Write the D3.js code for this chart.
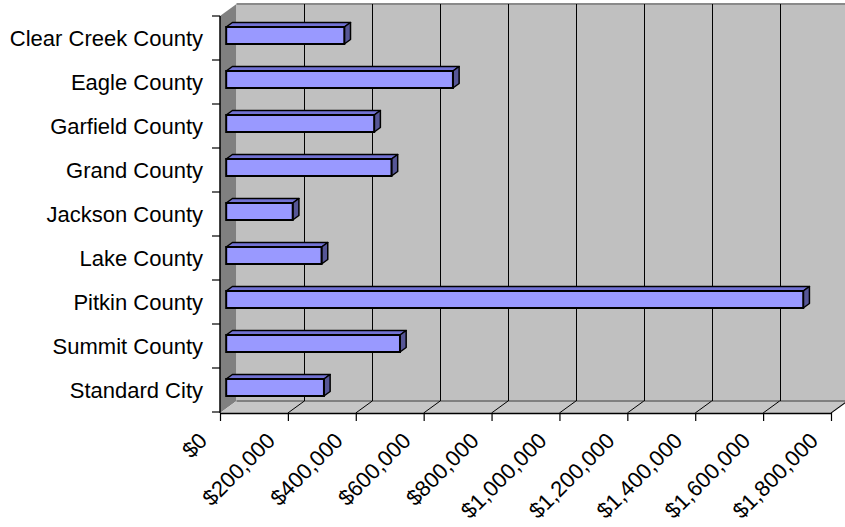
<!DOCTYPE html>
<html>
<head>
<meta charset="utf-8">
<script src="https://cdn.jsdelivr.net/npm/d3@7"></script>
<style>
  html, body { margin: 0; padding: 0; background: #ffffff; }
  svg { display: block; }
  text { font-family: "Liberation Sans", Arial, sans-serif; fill: #000; }
</style>
</head>
<body>
<svg id="chart" width="845" height="527"></svg>
<script>
// ---- data ----
const categories = ["Clear Creek County", "Eagle County", "Garfield County", "Grand County",
  "Jackson County", "Lake County", "Pitkin County", "Summit County", "Standard City"];
const values = [348000, 668000, 436000, 487000, 196000, 281000, 1700000, 512000, 288000];
const tickValues = [0, 200000, 400000, 600000, 800000, 1000000, 1200000, 1400000, 1600000, 1800000];

// ---- layout ----
const svg = d3.select("#chart");
const DX = 16.5, DY = -12;        // depth of the 3-D box
const F1 = 0.375, F2 = 0.75;      // bar front / back depth fraction
const x = d3.scaleLinear().domain([0, 1800000]).range([220, 831]);
const y = d3.scaleBand().domain(categories).range([16, 412]);
const x0 = x.range()[0], x1 = x.range()[1];
const yTop = y.range()[0], yBot = y.range()[1] + 1;
const FONT = "22px";

// left wall
svg.append("polygon")
  .attr("points", [[x0, yTop], [x0 + DX, yTop + DY], [x0 + DX, yBot + DY], [x0, yBot]].join(" "))
  .attr("fill", "#808080");

// back wall
svg.append("rect")
  .attr("x", x0 + DX).attr("y", yTop + DY)
  .attr("width", x1 + DX - (x0 + DX) + 2).attr("height", yBot - yTop)
  .attr("fill", "#c0c0c0");
svg.append("line")
  .attr("x1", x0 + DX).attr("x2", 845).attr("y1", yTop + DY).attr("y2", yTop + DY)
  .attr("stroke", "#8a8a8a").attr("stroke-width", 2);

// floor
svg.append("polygon")
  .attr("points", [[x0, yBot], [x0 + DX, yBot + DY], [x1 + DX, yBot + DY], [x1, yBot]].join(" "))
  .attr("fill", "#c6c6c6");
svg.append("line")
  .attr("x1", x0 + DX).attr("x2", x1 + DX).attr("y1", yBot + DY).attr("y2", yBot + DY)
  .attr("stroke", "#808080").attr("stroke-width", 2);
svg.append("line")
  .attr("x1", x1).attr("x2", x1 + DX).attr("y1", yBot).attr("y2", yBot + DY)
  .attr("stroke", "#909090").attr("stroke-width", 1.5);

// gridlines on back wall + floor
const grid = svg.append("g");
tickValues.slice(1).forEach(t => {
  grid.append("line")
    .attr("x1", Math.round(x(t) + DX) + 0.5).attr("x2", Math.round(x(t) + DX) + 0.5)
    .attr("y1", yTop + DY).attr("y2", yBot + DY)
    .attr("stroke", "#000").attr("stroke-width", 1);
  grid.append("line")
    .attr("x1", x(t) + DX).attr("x2", x(t))
    .attr("y1", yBot + DY).attr("y2", yBot)
    .attr("stroke", "#000").attr("stroke-width", 1);
});

// bottom axis
const fmt = v => "$" + d3.format(",")(v);
const xAxis = svg.append("g")
  .attr("transform", `translate(0,${yBot})`)
  .call(d3.axisBottom(x).tickValues(tickValues).tickSize(8).tickSizeOuter(0).tickFormat(fmt));
xAxis.select(".domain").attr("stroke", "#000").attr("stroke-width", 1.5);
xAxis.selectAll(".tick line").attr("stroke", "#000").attr("stroke-width", 1.2);
xAxis.selectAll(".tick text")
  .attr("font-size", FONT)
  .attr("font-family", "'Liberation Sans', Arial, sans-serif")
  .attr("text-anchor", "end")
  .attr("y", 0).attr("dy", 0)
  .attr("transform", "translate(-12,29) rotate(-45)");

// left axis
svg.append("line")
  .attr("x1", x0).attr("x2", x0).attr("y1", yTop).attr("y2", yBot)
  .attr("stroke", "#000").attr("stroke-width", 1.5);
const bounds = categories.map(c => y(c)).concat([y.range()[1]]);
svg.append("g").selectAll("line").data(bounds).join("line")
  .attr("x1", x0 - 8).attr("x2", x0).attr("y1", d => d).attr("y2", d => d)
  .attr("stroke", "#000").attr("stroke-width", 1.2);
const yAxis = svg.append("g")
  .attr("transform", `translate(${x0},0)`)
  .call(d3.axisLeft(y).tickSize(0).tickPadding(17));
yAxis.select(".domain").remove();
yAxis.selectAll(".tick text")
  .attr("font-size", FONT)
  .attr("font-family", "'Liberation Sans', Arial, sans-serif")
  .attr("dy", "0.36em");

// bars
const bh = 17, bOff = 15.5;
const bdx = (F2 - F1) * DX, bdy = (F2 - F1) * DY;
const bars = svg.append("g").selectAll("g").data(categories.map((c, i) => ({c, v: values[i]}))).join("g");
bars.each(function(d) {
  const g = d3.select(this);
  const xl = x(0) + F1 * DX, xr = x(d.v) + F1 * DX;
  const yt = y(d.c) + bOff + F1 * DY, yb = yt + bh;
  g.append("polygon")
    .attr("points", [[xl, yt], [xr, yt], [xr + bdx, yt + bdy], [xl + bdx, yt + bdy]].join(" "))
    .attr("fill", "#7272d4").attr("stroke", "#000").attr("stroke-width", 1.5).attr("stroke-linejoin", "round");
  g.append("polygon")
    .attr("points", [[xr, yt], [xr + bdx, yt + bdy], [xr + bdx, yb + bdy], [xr, yb]].join(" "))
    .attr("fill", "#565696").attr("stroke", "#000").attr("stroke-width", 1.5).attr("stroke-linejoin", "round");
  g.append("rect")
    .attr("x", xl).attr("y", yt).attr("width", xr - xl).attr("height", bh)
    .attr("fill", "#9999ff").attr("stroke", "#000").attr("stroke-width", 2);
});
</script>
</body>
</html>
